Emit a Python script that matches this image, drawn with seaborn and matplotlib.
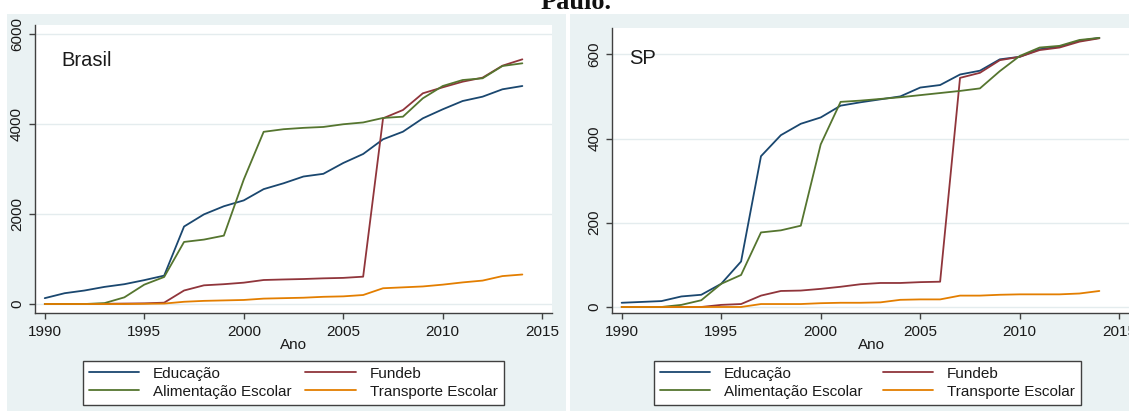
import matplotlib
matplotlib.use("Agg")
import matplotlib.pyplot as plt
import matplotlib.patches as mpatches
import seaborn as sns
import pandas as pd

# ---------------- data ----------------
anos = list(range(1990, 2015))
series = ["Educação", "Alimentação Escolar", "Fundeb", "Transporte Escolar"]

edu_br = [130, 240, 300, 380, 440, 530, 630, 1720, 1990, 2170, 2300, 2550, 2680,
          2830, 2890, 3130, 3330, 3656, 3825, 4122, 4322, 4506, 4602, 4766, 4839]
fundeb_br = [0, 0, 0, 5, 10, 15, 30, 300, 415, 440, 474, 533, 545,
             555, 570, 580, 607, 4122, 4306, 4677, 4810, 4935, 5024, 5290, 5431]
alim_br = [0, 0, 0, 20, 148, 430, 600, 1378, 1430, 1518, 2763, 3822, 3880,
           3910, 3930, 3990, 4030, 4130, 4158, 4566, 4839, 4972, 5010, 5283, 5343]
transp_br = [0, 0, 0, 0, 0, 5, 10, 50, 70, 80, 90, 120, 130,
             140, 160, 170, 200, 350, 370, 390, 430, 480, 520, 620, 655]

edu_sp = [10, 12, 14, 25, 29, 55, 108, 358, 408, 435, 450, 478, 486,
          493, 500, 521, 527, 552, 561, 588, 594, 612, 618, 632, 639]
fundeb_sp = [0, 0, 0, 0, 0, 5, 7, 27, 38, 39, 43, 48, 54,
             57, 57, 59, 60, 544, 556, 586, 594, 610, 616, 630, 638]
alim_sp = [0, 0, 0, 5, 16, 55, 76, 177, 182, 193, 386, 487, 490,
           494, 498, 503, 508, 513, 519, 560, 596, 616, 620, 634, 639]
transp_sp = [0, 0, 0, 0, 0, 0, 0, 7, 7, 7, 9, 10, 10,
             11, 17, 18, 18, 27, 27, 29, 30, 30, 30, 32, 38]

xticks = [1990, 1995, 2000, 2005, 2010, 2015]
yticks_br = [0, 2000, 4000, 6000]
yticks_sp = [0, 200, 400, 600]

colors = {"Educação": "#1a476f", "Fundeb": "#90353b",
          "Alimentação Escolar": "#55752f", "Transporte Escolar": "#e37e00"}
draw_order = ["Educação", "Fundeb", "Alimentação Escolar", "Transporte Escolar"]


def long_df(edu, fund, alim, transp):
    frames = []
    for name, vals in zip(["Educação", "Fundeb", "Alimentação Escolar", "Transporte Escolar"],
                          [edu, fund, alim, transp]):
        frames.append(pd.DataFrame({"Ano": anos, "valor": vals, "serie": name}))
    return pd.concat(frames, ignore_index=True)


df_br = long_df(edu_br, fundeb_br, alim_br, transp_br)
df_sp = long_df(edu_sp, fundeb_sp, alim_sp, transp_sp)

# ---------------- style ----------------
sns.set_theme(style="white")
plt.rcParams["font.family"] = ["Liberation Sans", "DejaVu Sans"]
TXT = "#1a1a1a"
BG = "#EAF2F3"
GRID = "#E4ECEE"
AX = "#404040"
FS = 11

W, H = 1129, 411
fig = plt.figure(figsize=(W / 100, H / 100), dpi=100)
fig.patch.set_facecolor("white")


def fx(px):
    return px / W


def fy(py):
    return 1 - py / H


# panel backgrounds
for x0, x1 in [(7, 566), (570, 1135)]:
    r = mpatches.Rectangle((fx(x0), 0), fx(x1 - x0), fy(14),
                           transform=fig.transFigure, facecolor=BG,
                           edgecolor="none", zorder=-10)
    fig.add_artist(r)


def make_ax(left, right, top, bottom):
    a = fig.add_axes([fx(left), fy(bottom), fx(right - left), (bottom - top) / H])
    a.set_zorder(1)
    return a


ax1 = make_ax(35, 552, 25, 313.3)
ax2 = make_ax(612.3, 1131, 28, 313.3)

panels = [
    (ax1, df_br, yticks_br, (-206, 6193), (1989.51, 2015.49), "Brasil", (61, 61),
     (82.7, 503.6)),
    (ax2, df_sp, yticks_sp, (-15, 662.4), (1989.53, 2015.59), "SP", (629, 58),
     (653.6, 1080.7)),
]

for ax, df, yt, ylim, xlim, label, lpos, legx in panels:
    sns.lineplot(data=df, x="Ano", y="valor", hue="serie", hue_order=draw_order,
                 palette=colors, ax=ax, legend=False, linewidth=1.3, errorbar=None)
    ax.set_facecolor("white")
    ax.set_xlim(*xlim)
    ax.set_ylim(*ylim)
    ax.set_xticks(xticks)
    ax.set_yticks(yt)
    ax.set_yticklabels([str(v) for v in yt])
    ax.grid(axis="y", color=GRID, linewidth=1.0)
    ax.grid(axis="x", visible=False)
    ax.set_axisbelow(True)
    for s in ["top", "right"]:
        ax.spines[s].set_visible(False)
    for s in ["left", "bottom"]:
        ax.spines[s].set_color(AX)
        ax.spines[s].set_linewidth(1.0)
    ax.tick_params(axis="both", which="major", direction="out", length=4,
                   width=1, color=AX, labelsize=FS, labelcolor=TXT,
                   left=True, bottom=True)
    ax.tick_params(axis="x", pad=4.5)
    ax.tick_params(axis="y", pad=4)
    plt.setp(ax.get_yticklabels(), rotation=90, va="center")
    ax.set_xlabel("Ano", fontsize=FS, color=TXT, labelpad=-1)
    ax.set_ylabel("")

    ax.text(fx(lpos[0]), fy(lpos[1]), label, fontsize=14.5, color=TXT,
            ha="left", va="center", transform=fig.transFigure)

    handles = [plt.Line2D([], [], color=colors[name], linewidth=1.3) for name in series]
    leg = ax.legend(handles, series, ncol=2, loc="upper left", mode="expand",
                    bbox_to_anchor=(fx(legx[0]), fy(408), fx(legx[1] - legx[0]),
                                    (408 - 360.7) / H),
                    bbox_transform=fig.transFigure, frameon=True, fancybox=False,
                    framealpha=1, facecolor="white", edgecolor=AX,
                    fontsize=FS, handlelength=3.3, handletextpad=0.9,
                    labelspacing=0.25, borderpad=0.4, borderaxespad=0,
                    columnspacing=1.5)
    leg.get_frame().set_linewidth(1.0)
    for t in leg.get_texts():
        t.set_color(TXT)

fig.text(fx(576), fy(9), "Paulo.", ha="center", va="baseline", fontsize=19,
         fontweight="bold", family=["Liberation Serif", "DejaVu Serif"], color="#111111")

fig.savefig("out.png", dpi=100, facecolor="white")
